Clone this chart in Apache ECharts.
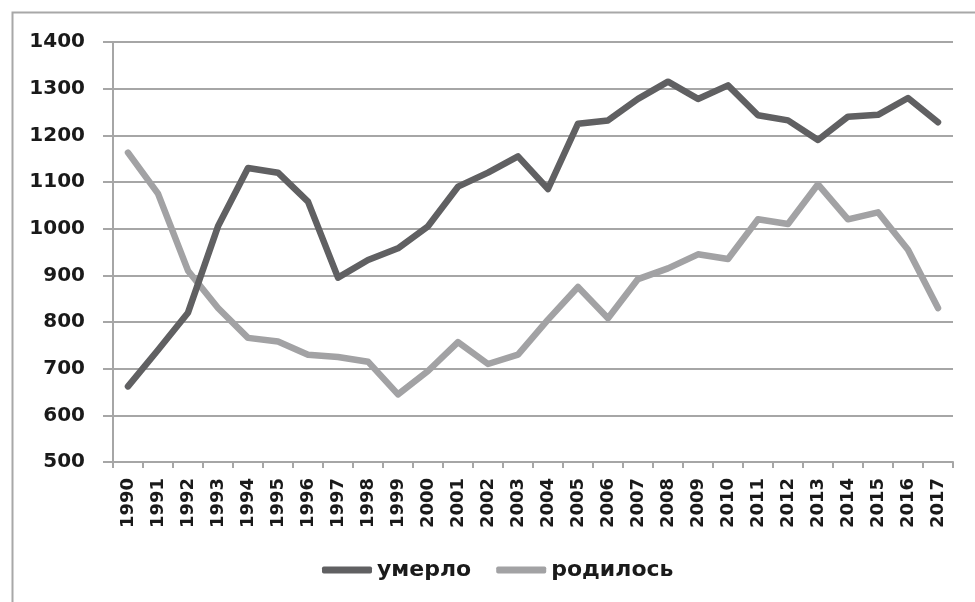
<!DOCTYPE html>
<html>
<head>
<meta charset="utf-8">
<script src="https://cdn.jsdelivr.net/npm/echarts@6/dist/echarts.min.js"></script>
<style>html,body{margin:0;padding:0;background:#fff}#c{width:975px;height:602px}</style>
</head>
<body>
<div id="c"></div>
<script>
const years = ['1990','1991','1992','1993','1994','1995','1996','1997','1998','1999','2000','2001','2002','2003','2004','2005','2006','2007','2008','2009','2010','2011','2012','2013','2014','2015','2016','2017'];
const died = [662,740,820,1005,1130,1120,1058,895,933,958,1005,1090,1120,1155,1085,1225,1232,1278,1315,1278,1307,1243,1232,1190,1240,1244,1280,1228];
const born = [1163,1075,910,830,766,758,730,725,715,645,695,757,710,730,805,875,808,892,915,945,935,1020,1010,1095,1020,1035,955,830];
const yTicks = {min:500, max:1400, interval:100};
const seriesNames = ['умерло','родилось'];

const chart = echarts.init(document.getElementById('c'), null, {renderer:'canvas'});
const font = 'DejaVu Sans';
chart.setOption({
  animation:false,
  backgroundColor:'#fff',
  graphic:[{type:'rect', shape:{x:12.5,y:12.5,width:1000,height:700}, style:{fill:'none', stroke:'#a8a8a8', lineWidth:2}, silent:true}],
  grid:{left:113, right:22, top:42, bottom:140},
  legend:{
    bottom:16, left:317,
    data:seriesNames.map(n=>({name:n, icon:'roundRect'})),
    itemWidth:50, itemHeight:7, itemGap:25,
    textStyle:{fontFamily:font, fontWeight:'bold', fontSize:22, color:'#1a1a1a'}
  },
  xAxis:{
    type:'category', data:years, boundaryGap:true,
    axisLine:{lineStyle:{color:'#a6a6a6', width:2}},
    axisTick:{show:true, length:6, alignWithLabel:false, lineStyle:{color:'#a6a6a6', width:2}},
    axisLabel:{rotate:90, margin:16, fontFamily:font, fontWeight:'bold', fontSize:18, color:'#1a1a1a', interval:0},
    splitLine:{show:false}
  },
  yAxis:{
    type:'value', min:yTicks.min, max:yTicks.max, interval:yTicks.interval,
    axisLine:{show:true, lineStyle:{color:'#a6a6a6', width:2}},
    axisTick:{show:true, length:10, lineStyle:{color:'#a6a6a6', width:2}},
    axisLabel:{margin:28, fontFamily:font, fontWeight:'bold', fontSize:20, color:'#1a1a1a', formatter:v=>String(v)},
    splitLine:{show:true, lineStyle:{color:'#a6a6a6', width:2}}
  },
  series:[
    {name:seriesNames[0], type:'line', data:died, symbol:'none', color:'#606062',
      lineStyle:{width:6.5, color:'#606062', cap:'round', join:'round'}, z:3},
    {name:seriesNames[1], type:'line', data:born, symbol:'none', color:'#a2a2a4',
      lineStyle:{width:6.5, color:'#a2a2a4', cap:'round', join:'round'}, z:2}
  ]
});
</script>
</body>
</html>
